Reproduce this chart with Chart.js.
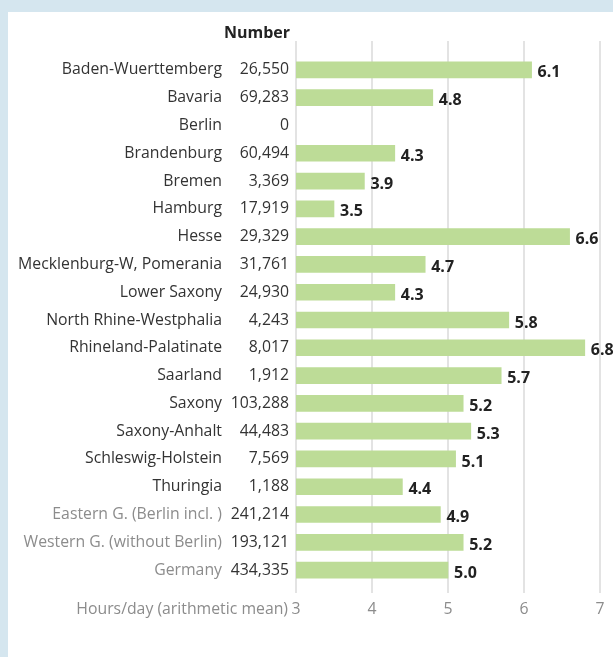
<!DOCTYPE html>
<html>
<head>
<meta charset="utf-8">
<script src="https://cdn.jsdelivr.net/npm/chart.js@4.4.0/dist/chart.umd.min.js"></script>
<style>
  html, body { margin: 0; padding: 0; }
  body { width: 613px; height: 657px; background: #d5e6ef; position: relative; overflow: hidden; }
  .panel { position: absolute; left: 8px; top: 12px; width: 605px; height: 645px; background: #fff; }
  canvas { display: block; }
</style>
</head>
<body>
<div class="panel"><canvas id="myChart" width="605" height="645"></canvas></div>
<script>
const regions = [
  "Baden-Wuerttemberg", "Bavaria", "Berlin", "Brandenburg", "Bremen", "Hamburg",
  "Hesse", "Mecklenburg-W, Pomerania", "Lower Saxony", "North Rhine-Westphalia",
  "Rhineland-Palatinate", "Saarland", "Saxony", "Saxony-Anhalt", "Schleswig-Holstein",
  "Thuringia", "Eastern G. (Berlin incl. )", "Western G. (without Berlin)", "Germany"
];
const counts = [
  "26,550", "69,283", "0", "60,494", "3,369", "17,919", "29,329", "31,761", "24,930",
  "4,243", "8,017", "1,912", "103,288", "44,483", "7,569", "1,188", "241,214", "193,121", "434,335"
];
const hours = [6.1, 4.8, null, 4.3, 3.9, 3.5, 6.6, 4.7, 4.3, 5.8, 6.8, 5.7, 5.2, 5.3, 5.1, 4.4, 4.9, 5.2, 5.0];
const greyRows = [16, 17, 18];
const xTicks = [3, 4, 5, 6, 7];

const fontFam = "'Open Sans', sans-serif";

// grid, left labels, value labels and axis text
const extras = {
  id: "extras",
  beforeDatasetsDraw(chart) {
    const ctx = chart.ctx;
    const x = chart.scales.x;
    const area = chart.chartArea;
    ctx.save();
    ctx.strokeStyle = "#dadada";
    ctx.lineWidth = 1.5;
    xTicks.forEach(t => {
      const px = x.getPixelForValue(t);
      ctx.beginPath();
      ctx.moveTo(px, area.top - 15);
      ctx.lineTo(px, area.bottom + 9);
      ctx.stroke();
    });
    ctx.restore();
  },
  afterDatasetsDraw(chart) {
    const ctx = chart.ctx;
    const x = chart.scales.x;
    const y = chart.scales.y;
    const area = chart.chartArea;
    ctx.save();
    ctx.textBaseline = "middle";
    ctx.font = "15.8px " + fontFam;
    regions.forEach((name, i) => {
      const py = y.getPixelForValue(i);
      ctx.textAlign = "right";
      ctx.fillStyle = greyRows.includes(i) ? "#8c8c8c" : "#333";
      ctx.fillText(name, 214, py);
      ctx.fillStyle = "#333";
      ctx.fillText(counts[i], 281, py);
    });
    ctx.font = "bold 16px " + fontFam;
    ctx.fillStyle = "#222";
    ctx.textAlign = "left";
    hours.forEach((v, i) => {
      if (v === null) return;
      const px = x.getPixelForValue(v);
      ctx.fillText(v.toFixed(1), px + 6, y.getPixelForValue(i) + 3);
    });
    ctx.textAlign = "right";
    ctx.fillText("Number", 282, 21);
    // axis ticks
    ctx.font = "15.8px " + fontFam;
    ctx.fillStyle = "#8c8c8c";
    ctx.textAlign = "center";
    xTicks.forEach(t => {
      ctx.fillText(String(t), x.getPixelForValue(t), area.bottom + 25);
    });
    ctx.textAlign = "right";
    ctx.fillText("Hours/day (arithmetic mean)", x.getPixelForValue(3) - 8, area.bottom + 25);
    ctx.restore();
  }
};

new Chart(document.getElementById("myChart"), {
  type: "bar",
  data: {
    labels: regions,
    datasets: [{
      data: hours,
      backgroundColor: "#bddc97",
      borderWidth: 0,
      barThickness: 16,
      base: 3
    }]
  },
  options: {
    indexAxis: "y",
    responsive: false,
    animation: false,
    layout: { padding: { left: 288, right: 13, top: 44, bottom: 73 } },
    plugins: { legend: { display: false }, tooltip: { enabled: false } },
    scales: {
      x: { min: 3, max: 7, display: false },
      y: { display: false, offset: true }
    }
  },
  plugins: [extras]
});
</script>
</body>
</html>
